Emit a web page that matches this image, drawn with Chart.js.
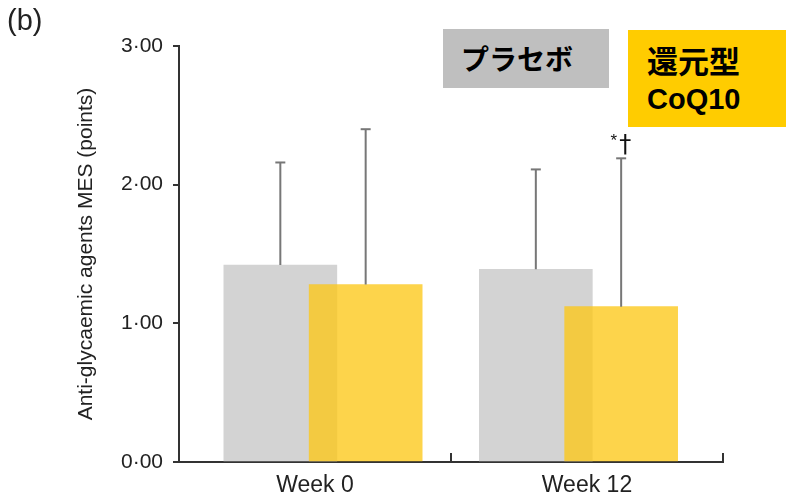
<!DOCTYPE html>
<html>
<head>
<meta charset="utf-8">
<script src="https://cdn.jsdelivr.net/npm/chart.js@4/dist/chart.umd.min.js"></script>
<style>
  html, body { margin: 0; padding: 0; background: #fff; overflow: hidden; }
  #wrap { position: relative; width: 786px; height: 496px; }
  #panel { position: absolute; left: 7px; top: 4px; font: 29px "Liberation Sans", Arial, sans-serif; color: #222; }
  .key { position: absolute; font-family: "Noto Sans CJK JP", "Liberation Sans", sans-serif; font-weight: bold; color: #000; box-sizing: border-box; }
  #keyPlacebo { left: 443px; top: 29px; width: 166px; height: 59px; background: #bfbfbf; font-size: 28px; line-height: 59px; padding-left: 18px; }
  #keyCoq { left: 628px; top: 30px; width: 158px; height: 97px; background: #ffcc00; font-size: 31px; line-height: 36px; padding: 12px 0 0 19px; }
  #keyCoq .en { font-family: "Liberation Sans", Arial, sans-serif; font-size: 29px; }
</style>
</head>
<body>
<div id="wrap">
  <canvas id="c" width="786" height="496"></canvas>
  <div id="panel">(b)</div>
  <div class="key" id="keyPlacebo"></div>
  <div class="key" id="keyCoq"></div>
</div>
<script>
// Time points and group results (mean with upward SD bar)
const categories = ['Week 0', 'Week 12'];
const placeboMean = [1.42, 1.39];
const placeboSD = [0.74, 0.72];
const coq10Mean = [1.28, 1.12];
const coq10SD = [1.12, 1.07];
const yTicks = [0, 1, 2, 3];
const seriesNames = ['プラセボ', '還元型', 'CoQ10'];
const markers = ['', '*†'];

document.getElementById('keyPlacebo').textContent = seriesNames[0];
document.getElementById('keyCoq').innerHTML = seriesNames[1] + '<br><span class="en">' + seriesNames[2] + '</span>';

// Each group sits on its own hidden linear axis so the two bars can overlap
const GREY_SHIFT = -0.167, GOLD_SHIFT = 0.167;
const AXIS_MIN = -0.5636, AXIS_MAX = 1.5656;
const barAxis = () => ({
  type: 'linear',
  display: false,
  offset: false,
  min: AXIS_MIN,
  max: AXIS_MAX,
  afterBuildTicks(scale) { scale.ticks = [{ value: AXIS_MIN }, { value: AXIS_MAX }]; }
});

const barPoints = (means, shift) => means.map((m, i) => ({ x: i + shift, y: m }));
const errPoints = (means, sds, shift) => {
  const pts = [];
  means.forEach((m, i) => {
    pts.push({ x: i + shift, y: m });
    pts.push({ x: i + shift, y: m + sds[i], cap: true });
    pts.push({ x: i + shift, y: null });
  });
  return pts;
};

const barStyle = {
  grouped: false,
  barThickness: 113,
  maxBarThickness: 113,
  borderWidth: 0
};

const errStyle = {
  type: 'line',
  borderColor: '#777',
  borderWidth: 2,
  pointStyle: 'line',
  pointBorderColor: '#777',
  pointBorderWidth: 2,
  pointRadius: ctx => (ctx.raw && ctx.raw.cap ? 5 : 0),
  pointHoverRadius: 0,
  spanGaps: false,
  fill: false
};

// Upward tick marks at the category boundaries of the x axis
const xTickMarks = {
  id: 'xTickMarks',
  afterDraw(chart) {
    const xs = chart.scales.x;
    const ctx = chart.ctx;
    const n = categories.length;
    ctx.save();
    ctx.strokeStyle = '#333';
    ctx.lineWidth = 2;
    for (let k = 1; k <= n; k++) {
      const px = Math.round(xs.left + xs.width * k / n);
      ctx.beginPath();
      ctx.moveTo(px, xs.top);
      ctx.lineTo(px, xs.top - 9);
      ctx.stroke();
    }
    ctx.restore();
  }
};

// Significance symbols above the CoQ10 error bars
const sigMarks = {
  id: 'sigMarks',
  afterDraw(chart) {
    const xs = chart.scales.xGold, ys = chart.scales.y;
    const ctx = chart.ctx;
    ctx.save();
    ctx.fillStyle = '#111';
    ctx.textBaseline = 'alphabetic';
    markers.forEach((m, i) => {
      if (!m) return;
      const px = xs.getPixelForValue(i + GOLD_SHIFT);
      const py = ys.getPixelForValue(coq10Mean[i] + coq10SD[i]);
      ctx.textAlign = 'right';
      ctx.font = '17px "Liberation Sans", Arial, sans-serif';
      ctx.fillText(m[0], px - 4, py - 12);
      ctx.textAlign = 'center';
      ctx.font = '24px "DejaVu Sans", "Liberation Sans", sans-serif';
      ctx.fillText(m.slice(1), px + 4, py - 6);
    });
    ctx.restore();
  }
};

new Chart(document.getElementById('c'), {
  type: 'bar',
  data: {
    labels: categories,
    datasets: [
      Object.assign({}, barStyle, {
        label: seriesNames[0],
        data: barPoints(placeboMean, GREY_SHIFT),
        xAxisID: 'xGrey',
        backgroundColor: '#d3d3d3',
        order: 4
      }),
      Object.assign({}, errStyle, {
        label: seriesNames[0] + ' SD',
        data: errPoints(placeboMean, placeboSD, GREY_SHIFT),
        xAxisID: 'xGrey',
        order: 3
      }),
      Object.assign({}, barStyle, {
        label: seriesNames[1] + ' ' + seriesNames[2],
        data: barPoints(coq10Mean, GOLD_SHIFT),
        xAxisID: 'xGold',
        backgroundColor: 'rgba(252, 199, 21, 0.77)',
        order: 2
      }),
      Object.assign({}, errStyle, {
        label: seriesNames[2] + ' SD',
        data: errPoints(coq10Mean, coq10SD, GOLD_SHIFT),
        xAxisID: 'xGold',
        order: 1
      })
    ]
  },
  options: {
    responsive: false,
    animation: false,
    events: [],
    layout: { padding: { left: 0, right: 63, top: 46, bottom: 0 } },
    plugins: { legend: { display: false }, tooltip: { enabled: false } },
    scales: {
      x: {
        type: 'category',
        labels: categories,
        offset: true,
        grid: { display: true, drawOnChartArea: false, drawTicks: false },
        border: { display: true, color: '#333', width: 2 },
        ticks: {
          color: '#222',
          padding: 10,
          font: { family: '"Liberation Sans", Arial, sans-serif', size: 23 }
        },
        afterFit(scale) { scale.height = 34; }
      },
      xGrey: barAxis(),
      xGold: barAxis(),
      y: {
        min: 0,
        max: 3,
        afterBuildTicks(scale) { scale.ticks = yTicks.map(v => ({ value: v })); },
        grid: { display: true, drawOnChartArea: false, drawTicks: true, tickLength: 6, color: '#333', lineWidth: 2 },
        border: { display: true, color: '#333', width: 2 },
        ticks: {
          color: '#222',
          padding: 10,
          font: { family: '"Liberation Sans", Arial, sans-serif', size: 21 },
          callback: v => v.toFixed(2).replace('.', '·')
        },
        title: {
          display: true,
          text: 'Anti-glycaemic agents MES (points)',
          color: '#222',
          padding: { top: 74, bottom: 0 },
          font: { family: '"Liberation Sans", Arial, sans-serif', size: 21 }
        },
        afterFit(scale) { scale.width = 179; }
      }
    }
  },
  plugins: [xTickMarks, sigMarks]
});
</script>
</body>
</html>
